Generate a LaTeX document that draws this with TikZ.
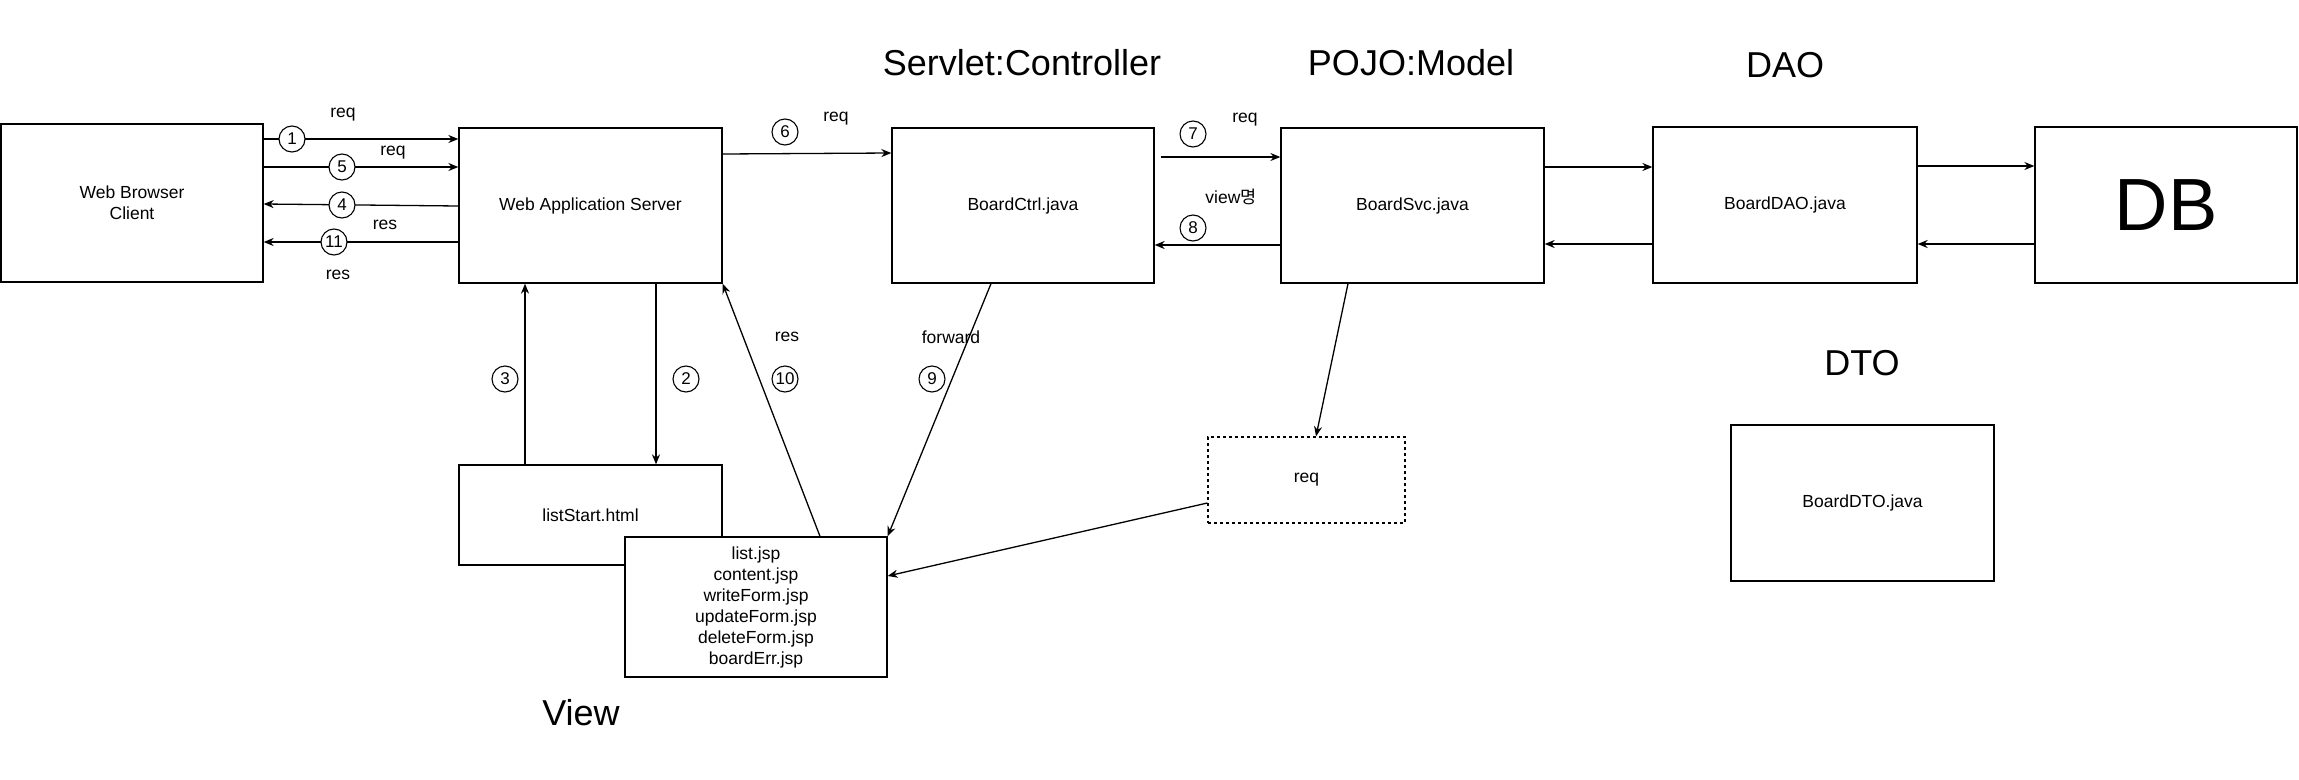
\documentclass[tikz,border=0pt]{standalone}
\usepackage{fontspec}
\setmainfont{Liberation Sans}
\newfontfamily\kor{Noto Sans CJK KR}
\usetikzlibrary{arrows.meta}
\tikzset{
  box/.style={draw, line width=1.3pt, fill=white, align=center, inner sep=0pt,
    font=\fontsize{17.5}{21}\selectfont},
  num/.style={draw, circle, line width=1.1pt, fill=white, minimum size=26pt,
    inner sep=0pt, font=\fontsize{17}{17}\selectfont},
  lbl/.style={font=\fontsize{17.5}{21}\selectfont},
  title/.style={font=\fontsize{36}{40}\selectfont},
  link/.style={line width=1.3pt, -{Stealth[length=10pt,width=8pt]}},
}
\begin{document}
\begin{tikzpicture}[x=1pt, y=-1pt]
        \useasboundingbox (0,0) rectangle (2299,779);
        % Titles
        \node[title] (tctrl) at (1022,63) {Servlet:Controller};
        \node[title] (tmodel) at (1411,63) {POJO:Model};
        \node[title] (tdao) at (1785,65) {DAO};
        \node[title] (tdto) at (1862,363) {DTO};
        \node[title] (tview) at (581,713) {View};
        % Boxes
        \node[box, minimum width=262, minimum height=158] (cli) at (132,203) {Web Browser\\Client};
        \node[box, minimum width=263, minimum height=155] (was) at (590.5,205.5) {Web Application Server};
        \node[box, minimum width=262, minimum height=155] (ctrl) at (1023,205.5) {BoardCtrl.java};
        \node[box, minimum width=263, minimum height=155] (svc) at (1412.5,205.5) {BoardSvc.java};
        \node[box, minimum width=264, minimum height=156] (dao) at (1785,205) {BoardDAO.java};
        \node[box, minimum width=262, minimum height=156, font=\fontsize{74}{80}\selectfont] (db) at (2166,205) {DB};
        \node[box, minimum width=263, minimum height=156] (dto) at (1862.5,503) {BoardDTO.java};
        \node[box, dashed, minimum width=197, minimum height=86] (req) at (1306.5,480) {req};
        \node[box, minimum width=263, minimum height=100] (start) at (590.5,515) {listStart.html};
        \node[box, minimum width=262, minimum height=140] (jsp) at (756,607)
            {list.jsp\\content.jsp\\writeForm.jsp\\updateForm.jsp\\deleteForm.jsp\\boardErr.jsp};
        % Client and server
        \draw[link] (cli.east |- 0,139) -- (was.west |- 0,139);
        \draw[link] (cli.east |- 0,167) -- (was.west |- 0,167);
        \draw[link] (was.west |- 0,206) -- (cli.east |- 0,204);
        \draw[link] (was.west |- 0,242) -- (cli.east |- 0,242);
        % Controller and model
        \draw[link] (was.east |- 0,154) -- (ctrl.west |- 0,153);
        \draw[link] ([xshift=6pt]ctrl.east |- 0,157) -- (svc.west |- 0,157);
        \draw[link] (svc.west |- 0,245) -- (ctrl.east |- 0,245);
        \draw[link] (svc.east |- 0,167) -- (dao.west |- 0,167);
        \draw[link] (dao.west |- 0,244) -- (svc.east |- 0,244);
        \draw[link] (dao.east |- 0,166) -- (db.west |- 0,166);
        \draw[link] (db.west |- 0,244) -- (dao.east |- 0,244);
        % View
        \draw[link] (start.north -| 525,0) -- (was.south -| 525,0);
        \draw[link] (was.south -| 656,0) -- (start.north -| 656,0);
        \draw[link] (jsp.north -| 820,0) -- (was.south east);
        \draw[link] (ctrl.south -| 991,0) -- (jsp.north east);
        \draw[link] (svc.south -| 1348,0) -- (req.north -| 1316,0);
        \draw[link] (req.west |- 0,503) -- (jsp.east |- 0,576);
        % Steps
        \foreach \n/\x/\y in {1/292/139, 5/342/167, 4/342/205, 11/334/242, 6/785/132,
                7/1193/134, 8/1193/228, 3/505/379, 2/686/379, 10/785/379, 9/932/379} {
            \node[num] (n\n) at (\x,\y) {\n};
        }
        % Labels
        \foreach \t/\x/\y [count=\i] in {req/343/115, req/393/153, res/385/225, res/338/275,
                req/836/119, req/1245/120, res/787/337, forward/951/337} {
            \node[lbl] (l\i) at (\x,\y) {\t};
        }
        \node[lbl] (lview) at (1231,197) {view{\kor 명}};
\end{tikzpicture}
\end{document}
